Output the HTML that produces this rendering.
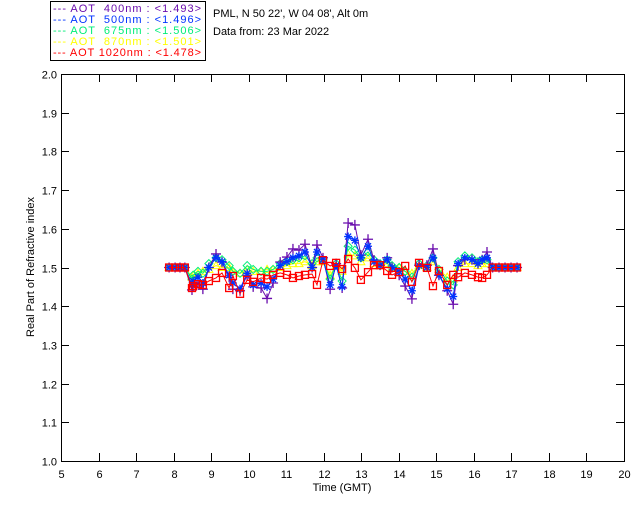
<!DOCTYPE html>
<html><head><meta charset="utf-8"><style>
body{margin:0;background:#fff;width:640px;height:512px;overflow:hidden}
svg{font-family:"Liberation Sans",sans-serif;font-size:11px}
</style></head><body>
<svg id="chart" width="640" height="512" viewBox="0 0 640 512">
<rect x="0" y="0" width="640" height="512" fill="#fff"/>
<g>
<rect x="50.5" y="1.5" width="155" height="59" fill="none" stroke="#000"/>
<text x="53" y="12" fill="#6a0dad" textLength="148" lengthAdjust="spacing" xml:space="preserve">--- AOT  400nm : &lt;1.493&gt;</text>
<text x="53" y="23" fill="#0033ff" textLength="148" lengthAdjust="spacing" xml:space="preserve">--- AOT  500nm : &lt;1.496&gt;</text>
<text x="53" y="34" fill="#00ee77" textLength="148" lengthAdjust="spacing" xml:space="preserve">--- AOT  675nm : &lt;1.506&gt;</text>
<text x="53" y="45" fill="#ffff00" textLength="148" lengthAdjust="spacing" xml:space="preserve">--- AOT  870nm : &lt;1.501&gt;</text>
<text x="53" y="56" fill="#ff0000" textLength="148" lengthAdjust="spacing" xml:space="preserve">--- AOT 1020nm : &lt;1.478&gt;</text>
</g>
<text x="213" y="17">PML, N 50 22', W 04 08', Alt 0m</text>
<text x="213" y="35">Data from: 23 Mar 2022</text>
<text x="342" y="491" text-anchor="middle">Time (GMT)</text>
<text transform="translate(34,267) rotate(-90)" text-anchor="middle">Real Part of Refractive index</text>
<g id="axes"></g>
<g id="series"></g>
</svg>
<script>
const xTicks=[5,6,7,8,9,10,11,12,13,14,15,16,17,18,19,20];
const yTicks=[1.0,1.1,1.2,1.3,1.4,1.5,1.6,1.7,1.8,1.9,2.0];
const times=[7.88,8.04,8.17,8.30,8.49,8.52,8.65,8.78,8.94,9.13,9.29,9.48,9.58,9.77,9.96,10.12,10.33,10.49,10.65,10.84,11.02,11.18,11.34,11.50,11.69,11.82,11.98,12.17,12.33,12.49,12.65,12.83,12.99,13.18,13.34,13.50,13.69,13.82,14.01,14.17,14.35,14.54,14.75,14.91,15.07,15.29,15.45,15.58,15.76,15.95,16.11,16.22,16.35,16.50,16.67,16.83,16.99,17.15];
const v400=[1.5,1.5,1.5,1.5,1.442,1.45,1.46,1.444,1.50,1.535,1.514,1.475,1.444,1.44,1.48,1.45,1.447,1.42,1.46,1.514,1.527,1.548,1.545,1.56,1.50,1.558,1.525,1.444,1.51,1.447,1.615,1.61,1.532,1.573,1.519,1.506,1.525,1.50,1.48,1.452,1.419,1.506,1.506,1.548,1.48,1.44,1.405,1.505,1.52,1.52,1.51,1.52,1.54,1.5,1.5,1.5,1.5,1.5];
const v500=[1.5,1.5,1.5,1.5,1.455,1.465,1.475,1.46,1.50,1.525,1.515,1.48,1.46,1.445,1.485,1.455,1.46,1.45,1.47,1.505,1.515,1.525,1.53,1.54,1.50,1.54,1.52,1.455,1.505,1.45,1.58,1.57,1.525,1.555,1.515,1.505,1.52,1.50,1.49,1.47,1.44,1.505,1.50,1.525,1.48,1.445,1.425,1.51,1.525,1.52,1.51,1.52,1.525,1.5,1.5,1.5,1.5,1.5];
const v675=[1.5,1.5,1.5,1.5,1.47,1.48,1.49,1.485,1.51,1.525,1.52,1.505,1.49,1.485,1.505,1.495,1.49,1.49,1.495,1.51,1.515,1.52,1.525,1.53,1.51,1.525,1.52,1.47,1.51,1.465,1.555,1.545,1.525,1.54,1.52,1.51,1.52,1.505,1.50,1.49,1.475,1.51,1.505,1.525,1.495,1.465,1.455,1.515,1.53,1.525,1.515,1.52,1.52,1.5,1.5,1.5,1.5,1.5];
const v870=[1.5,1.5,1.5,1.5,1.475,1.48,1.485,1.49,1.495,1.505,1.50,1.50,1.49,1.485,1.495,1.49,1.49,1.495,1.495,1.50,1.505,1.51,1.51,1.515,1.505,1.515,1.515,1.48,1.505,1.49,1.535,1.53,1.515,1.525,1.51,1.505,1.51,1.50,1.50,1.49,1.485,1.505,1.50,1.515,1.495,1.475,1.47,1.50,1.51,1.51,1.505,1.51,1.51,1.5,1.5,1.5,1.5,1.5];
const v1020=[1.5,1.5,1.5,1.5,1.447,1.452,1.457,1.455,1.465,1.473,1.486,1.447,1.478,1.432,1.468,1.463,1.473,1.470,1.481,1.486,1.481,1.473,1.478,1.481,1.483,1.455,1.519,1.504,1.512,1.496,1.522,1.499,1.468,1.488,1.506,1.506,1.491,1.481,1.488,1.504,1.463,1.512,1.499,1.452,1.491,1.455,1.481,1.475,1.486,1.481,1.475,1.473,1.481,1.5,1.5,1.5,1.5,1.5];
const X0=61,X1=624,Y0=461,Y1=74;
function xs(t){return X0+(t-5)/15*(X1-X0);}
function ys(v){return Y0-(v-1)/1*(Y0-Y1);}
const NS='http://www.w3.org/2000/svg';
function mk(tag,attrs,parent){const e=document.createElementNS(NS,tag);for(const k in attrs)e.setAttribute(k,attrs[k]);parent.appendChild(e);return e;}
const axes=document.getElementById('axes');
const frame=mk('rect',{x:X0+0.5,y:Y1+0.5,width:X1-X0,height:Y0-Y1,fill:'none',stroke:'#000'},axes);


xTicks.forEach(t=>{const x=Math.round(xs(t))+0.5;
 mk('line',{x1:x,y1:Y0,x2:x,y2:Y0-8,stroke:'#000'},axes);
 mk('line',{x1:x,y1:Y1,x2:x,y2:Y1+8,stroke:'#000'},axes);
 const l=mk('text',{x:x,y:Y0+17,'text-anchor':'middle'},axes);l.textContent=String(t);
 
 });
yTicks.forEach(v=>{const y=Math.round(ys(v))+0.5;
 mk('line',{x1:X0,y1:y,x2:X0+8,y2:y,stroke:'#000'},axes);
 mk('line',{x1:X1,y1:y,x2:X1-8,y2:y,stroke:'#000'},axes);
 const l=mk('text',{x:X0-4,y:y+4,'text-anchor':'end'},axes);l.textContent=v.toFixed(1);
 
 });
const sg=document.getElementById('series');
const defs=[[v870,'#ffff00','tri','aot-870'],[v675,'#00ee77','dia','aot-675'],[v400,'#6a0dad','plus','aot-400'],[v500,'#0033ff','star','aot-500'],[v1020,'#ff0000','sq','aot-1020']];
defs.forEach(([vals,c,m,name])=>{
 const g=mk('g',{},sg);
 
 
 const pts=times.map((t,i)=>xs(t).toFixed(1)+','+ys(vals[i]).toFixed(1)).join(' ');
 mk('polyline',{points:pts,fill:'none',stroke:c,'stroke-width':1},g);
 times.forEach((t,i)=>{const x=xs(t),y=ys(vals[i]);let p;
  if(m==='sq')p=mk('rect',{x:x-3.5,y:y-3.5,width:7,height:7,fill:'none',stroke:c,'stroke-width':1.3},g);
  else if(m==='tri')p=mk('polygon',{points:`${x},${y-4} ${x-4},${y+3} ${x+4},${y+3}`,fill:'none',stroke:c},g);
  else if(m==='dia')p=mk('polygon',{points:`${x},${y-4} ${x+4},${y} ${x},${y+4} ${x-4},${y}`,fill:'none',stroke:c},g);
  else if(m==='plus')p=mk('path',{d:`M${x-5},${y}H${x+5}M${x},${y-5}V${y+5}`,stroke:c,'stroke-width':1.3},g);
  else p=mk('path',{d:`M${x-4},${y}H${x+4}M${x},${y-4}V${y+4}M${x-3},${y-3}L${x+3},${y+3}M${x-3},${y+3}L${x+3},${y-3}`,stroke:c,'stroke-width':1.3},g);
  
  });
});
</script>
</body></html>
